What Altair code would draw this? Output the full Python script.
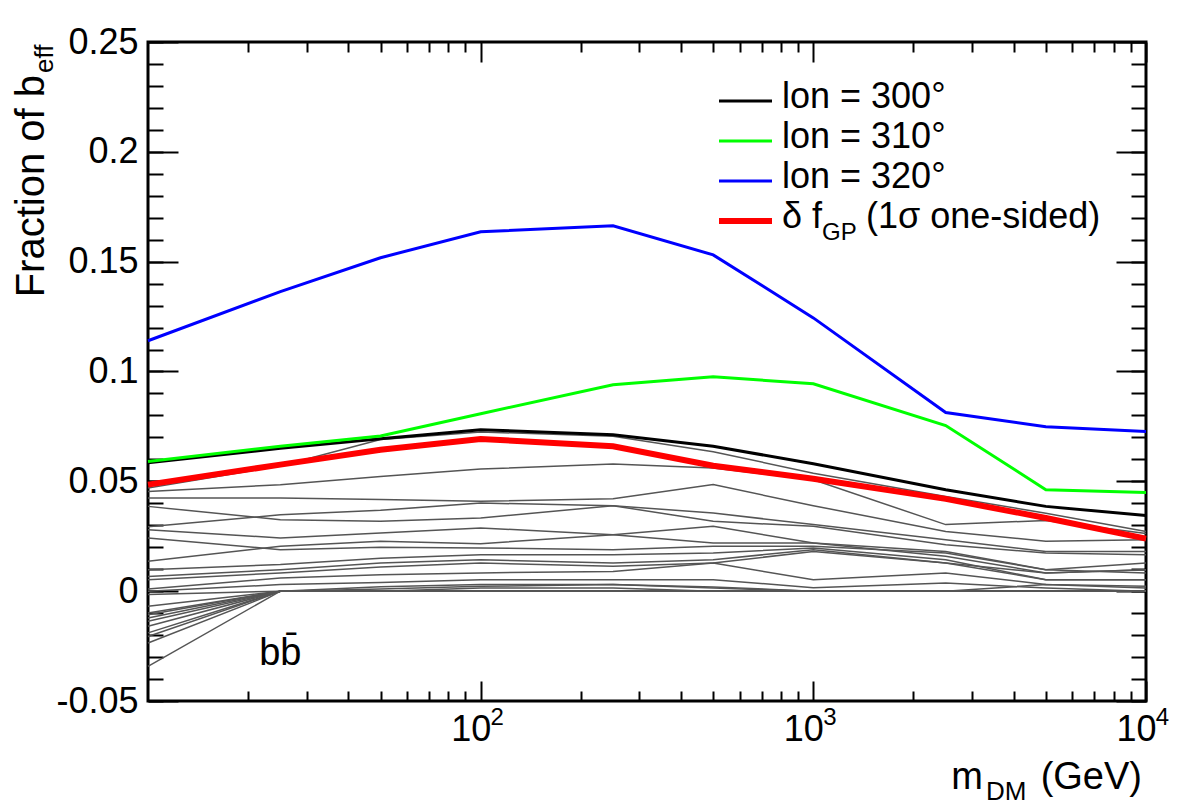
import altair as alt
import pandas as pd

FONT = "Liberation Sans"

# ---------------- data ----------------
masses = [10, 25, 50, 100, 250, 500, 1000, 2500, 5000, 10000]

lon300 = [0.0585, 0.0650, 0.0694, 0.0735, 0.0712, 0.0660, 0.0580, 0.0462, 0.0386, 0.0344]
lon310 = [0.0590, 0.0660, 0.0706, 0.0808, 0.0940, 0.0976, 0.0944, 0.0754, 0.0462, 0.0449]
lon320 = [0.1140, 0.1364, 0.1518, 0.1636, 0.1663, 0.1531, 0.1244, 0.0813, 0.0749, 0.0727]
delta_fgp = [0.0485, 0.0576, 0.0644, 0.0693, 0.0660, 0.0571, 0.0512, 0.0420, 0.0333, 0.0239]

gray_lines = [
    [0.0470, 0.0570, 0.0690, 0.0725, 0.0705, 0.0635, 0.0537, 0.0431, 0.0355, 0.0272],
    [0.0454, 0.0485, 0.0522, 0.0556, 0.0579, 0.0561, 0.0507, 0.0303, 0.0322, 0.0262],
    [0.0424, 0.0424, 0.0417, 0.0409, 0.0421, 0.0485, 0.0389, 0.0272, 0.0227, 0.0234],
    [0.0386, 0.0325, 0.0318, 0.0333, 0.0389, 0.0318, 0.0295, 0.0211, 0.0174, 0.0166],
    [0.0293, 0.0348, 0.0368, 0.0401, 0.0389, 0.0356, 0.0303, 0.0234, 0.0181, 0.0181],
    [0.0280, 0.0242, 0.0265, 0.0288, 0.0257, 0.0219, 0.0219, 0.0181, 0.0098, 0.0128],
    [0.0136, 0.0204, 0.0227, 0.0216, 0.0257, 0.0295, 0.0219, 0.0159, 0.0083, 0.0098],
    [0.0242, 0.0189, 0.0200, 0.0197, 0.0189, 0.0204, 0.0204, 0.0174, 0.0098, 0.0083],
    [0.0098, 0.0121, 0.0150, 0.0166, 0.0166, 0.0174, 0.0197, 0.0143, 0.0052, 0.0052],
    [0.0067, 0.0098, 0.0128, 0.0143, 0.0128, 0.0143, 0.0189, 0.0128, 0.0083, 0.0098],
    [0.0052, 0.0083, 0.0110, 0.0128, 0.0113, 0.0128, 0.0052, 0.0083, 0.0030, 0.0022],
    [0.0010, 0.0060, 0.0075, 0.0083, 0.0090, 0.0128, 0.0181, 0.0128, 0.0052, 0.0052],
    [0.0000, 0.0030, 0.0040, 0.0052, 0.0052, 0.0052, 0.0016, 0.0037, 0.0014, 0.0000],
    [-0.0015, 0.0000, 0.0020, 0.0030, 0.0030, 0.0014, 0.0000, 0.0000, 0.0030, 0.0014],
    [-0.0069, 0.0000, 0.0010, 0.0022, 0.0030, 0.0019, 0.0000, 0.0000, 0.0000, 0.0000],
    [-0.0099, 0.0000, 0.0000, 0.0014, 0.0014, 0.0000, 0.0000, 0.0000, 0.0000, 0.0000],
    [-0.0107, 0.0000, 0.0000, 0.0000, 0.0000, 0.0000, 0.0000, 0.0000, 0.0000, 0.0000],
    [-0.0122, 0.0000, 0.0000, 0.0000, 0.0000, 0.0000, 0.0000, 0.0000, 0.0000, 0.0000],
    [-0.0137, 0.0000, 0.0000, 0.0000, 0.0000, 0.0000, 0.0000, 0.0000, 0.0000, 0.0000],
    [-0.0160, 0.0000, 0.0000, 0.0000, 0.0000, 0.0000, 0.0000, 0.0000, 0.0000, 0.0000],
    [-0.0190, 0.0000, 0.0000, 0.0000, 0.0000, 0.0000, 0.0000, 0.0000, 0.0000, 0.0000],
    [-0.0206, 0.0000, 0.0000, 0.0000, 0.0000, 0.0000, 0.0000, 0.0000, 0.0000, 0.0000],
    [-0.0236, 0.0000, 0.0000, 0.0000, 0.0000, 0.0000, 0.0000, 0.0000, 0.0000, 0.0000],
    [-0.0342, 0.0000, 0.0000, 0.0000, 0.0000, 0.0000, 0.0000, 0.0000, 0.0000, 0.0000],
]

x_major = [100, 1000, 10000]
x_minor = [20, 30, 40, 50, 60, 70, 80, 90,
           200, 300, 400, 500, 600, 700, 800, 900,
           2000, 3000, 4000, 5000, 6000, 7000, 8000, 9000]
y_major = [-0.05, 0.0, 0.05, 0.1, 0.15, 0.2, 0.25]
y_minor = [round(-0.05 + 0.01 * i, 2) for i in range(31)]

legend_labels = ["lon = 300°", "lon = 310°", "lon = 320°"]
channel_label = "bb\u0304"

# ---------------- tables ----------------
gray_df = pd.DataFrame(
    [{"m": m, "f": v, "line": i} for i, row in enumerate(gray_lines) for m, v in zip(masses, row)]
)


def series_df(vals):
    return pd.DataFrame({"m": masses, "f": vals})


W, H = 998, 659
xs = alt.Scale(type="log", domain=[10, 10000], nice=False)
ys = alt.Scale(domain=[-0.05, 0.25], nice=False, zero=False)


def tick_axis(orient, values, size, offset):
    return alt.Axis(orient=orient, values=values, tickSize=size, offset=offset,
                    labels=False, domain=False, grid=False, ticks=True,
                    tickColor="black", tickWidth=2, title=None)


ax_x_labels = alt.Axis(orient="bottom", values=x_major, labelExpr="'10'", ticks=False, tickSize=0,
                       domain=False, grid=False, title=None, labelFont=FONT, labelFontSize=36,
                       labelColor="black", labelPadding=11, labelOffset=-10, labelFlush=False,
                       labelOverlap=False)
ax_x_exp = alt.Axis(orient="bottom", values=x_major,
                    labelExpr="toString(round(log(datum.value)/LN10))", ticks=False, tickSize=0,
                    domain=False, grid=False, title=None, labelFont=FONT, labelFontSize=24,
                    labelColor="black", labelPadding=4, labelOffset=16, labelFlush=False,
                    labelOverlap=False)
ax_y_labels = alt.Axis(orient="left", values=y_major,
                       labelExpr="toString(round(datum.value*100)/100)", ticks=False, tickSize=0,
                       domain=False, grid=False, title=None, labelFont=FONT, labelFontSize=36,
                       labelColor="black", labelPadding=10, labelOverlap=False, labelFlush=False)

gray = alt.Chart(gray_df).mark_line(color="#555555", strokeWidth=1.5).encode(
    x=alt.X("m:Q", scale=xs, axis=ax_x_labels),
    y=alt.Y("f:Q", scale=ys, axis=ax_y_labels),
    detail="line:N",
)

black = alt.Chart(series_df(lon300)).mark_line(color="black", strokeWidth=3).encode(
    x=alt.X("m:Q", scale=xs, axis=tick_axis("top", x_major, 20, -H)),
    y=alt.Y("f:Q", scale=ys, axis=tick_axis("right", y_major, 30, -W)),
)
green = alt.Chart(series_df(lon310)).mark_line(color="#00ff00", strokeWidth=3).encode(
    x=alt.X("m:Q", scale=xs, axis=tick_axis("top", x_minor, 10, -H)),
    y=alt.Y("f:Q", scale=ys, axis=tick_axis("right", y_minor, 15, -W)),
)
blue = alt.Chart(series_df(lon320)).mark_line(color="#0000ff", strokeWidth=3).encode(
    x=alt.X("m:Q", scale=xs, axis=tick_axis("bottom", x_major, 20, -H)),
    y=alt.Y("f:Q", scale=ys, axis=tick_axis("left", y_major, 30, -W)),
)
red = alt.Chart(series_df(delta_fgp)).mark_line(color="#ff0000", strokeWidth=6).encode(
    x=alt.X("m:Q", scale=xs, axis=tick_axis("bottom", x_minor, 10, -H)),
    y=alt.Y("f:Q", scale=ys, axis=tick_axis("left", y_minor, 15, -W)),
)

one = pd.DataFrame({"a": [0]})
bb = alt.Chart(one).mark_text(text=channel_label, font=FONT, fontSize=38, align="center",
                              baseline="alphabetic", color="black").encode(
    x=alt.X("m:Q", scale=xs, axis=ax_x_exp),
    y=alt.Y("f:Q", scale=ys, axis=None),
).transform_calculate(m="25", f="-0.0335")


def txt(s, x, y, size=36, align="left", angle=0):
    return alt.Chart(one).mark_text(text=s, font=FONT, fontSize=size, align=align,
                                    baseline="alphabetic", angle=angle, color="black").encode(
        x=alt.value(x), y=alt.value(y))


def rule(y, color, width):
    return alt.Chart(one).mark_rule(color=color, strokeWidth=width).encode(
        x=alt.value(571), x2=alt.value(624), y=alt.value(y))


legend = [
    rule(59, "black", 3), txt(legend_labels[0], 634, 66),
    rule(99, "#00ff00", 3), txt(legend_labels[1], 634, 106),
    rule(139, "#0000ff", 3), txt(legend_labels[2], 634, 146),
    rule(179, "#ff0000", 6), txt("\u03b4 f", 634, 186), txt("GP", 674, 198, size=24),
    txt("(1\u03c3 one-sided)", 718, 186),
]

titles = [
    txt("(GeV)", 994, 747, size=38, align="right"),
    txt("DM", 838, 758, size=26, align="left"),
    txt("m", 835, 747, size=38, align="right"),
    txt("Fraction of b", -104, 33, size=40, align="right", angle=270),
    txt("eff", -95, 31, size=26, align="left", angle=270),
]

chart = alt.layer(gray, black, green, blue, red, bb, *legend, *titles).resolve_axis(
    x="independent", y="independent"
).properties(
    width=W, height=H,
    autosize=alt.AutoSizeParams(type="none"),
    padding={"left": 148, "top": 42, "right": 36, "bottom": 108},
    background="white",
).configure_view(stroke="black", strokeWidth=3)

chart.save("out.html", embed_options={"renderer": "svg", "actions": False})
